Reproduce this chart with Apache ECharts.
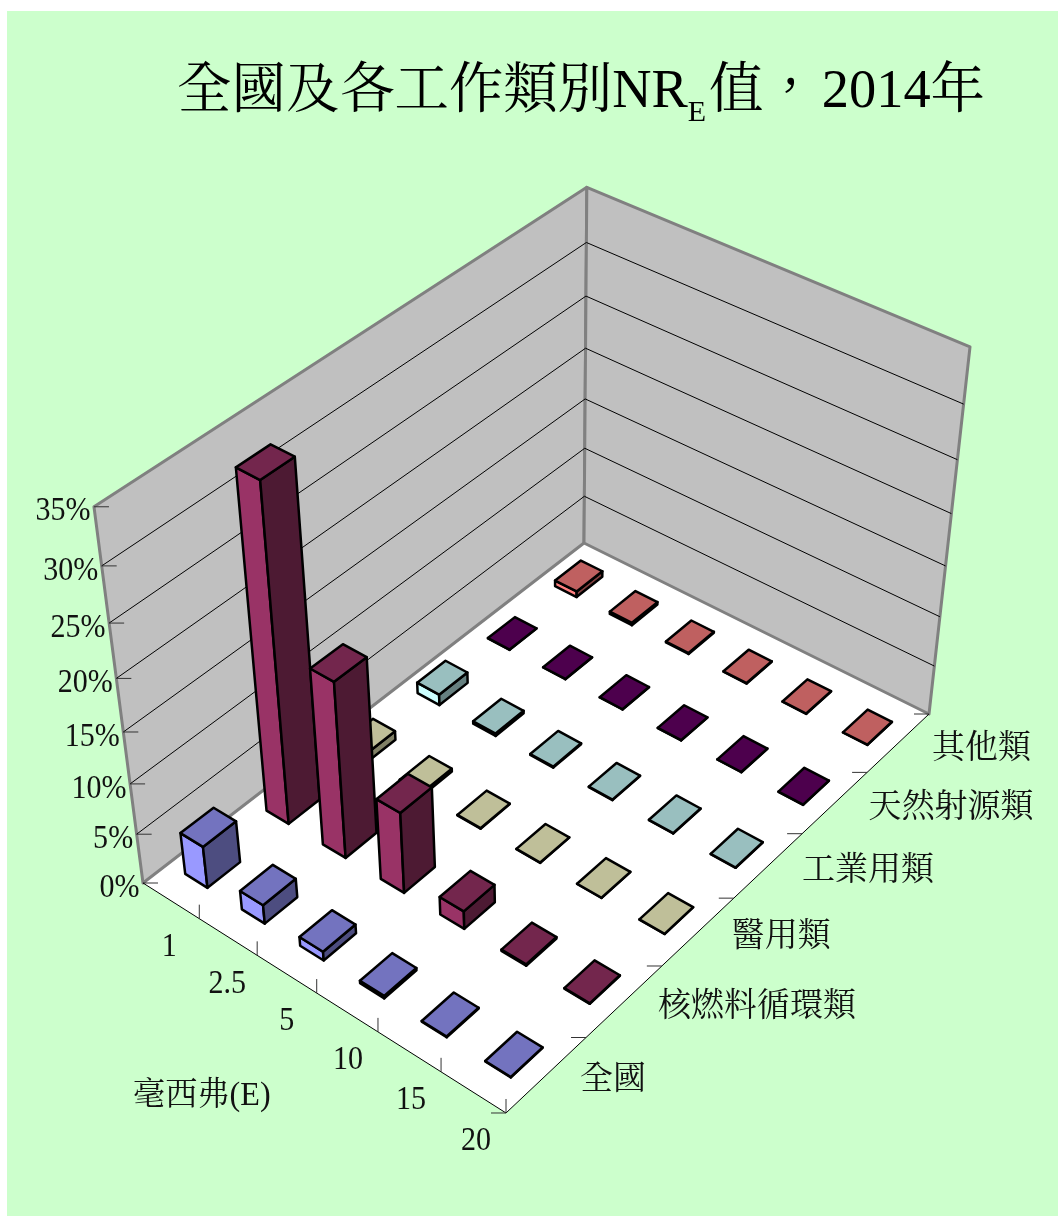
<!DOCTYPE html>
<html><head><meta charset="utf-8">
<style>html,body{margin:0;padding:0;background:#fff}#c{width:1058px;height:1216px}</style>
<script src="https://cdn.jsdelivr.net/npm/echarts@6/dist/echarts.min.js"></script>
</head><body><div id="c"></div>
<script>
const doses = ['1','2.5','5','10','15','20'];
const pctTicks = [0,5,10,15,20,25,30,35];
const groups = ['全國','核燃料循環類','醫用類','工業用類','天然射源類','其他類'];
const vAll      = [4.2,1.9,0.9,0.25,0.08,0.04];
const vFuel     = [32.5,17.4,8.1,1.8,0.15,0.05];
const vMedical  = [0.9,0.3,0.05,0.03,0.02,0.02];
const vIndustry = [1.1,0.25,0.1,0.05,0.04,0.03];
const vNatural  = [0.03,0.03,0.02,0.02,0.02,0.02];
const vOther    = [0.6,0.25,0.1,0.05,0.03,0.02];
const groupValues = [vAll,vFuel,vMedical,vIndustry,vNatural,vOther];
const faceColors = [
  ['#9999FF','#7373BF','#4D4D80'],
  ['#993366','#73264D','#4D1A33'],
  ['#FFFFCC','#BFBF99','#808066'],
  ['#CCFFFF','#99BFBF','#668080'],
  ['#660066','#4D004D','#330033'],
  ['#FF8080','#BF6060','#804040']
];
const FONT = '"Liberation Serif","Noto Serif CJK TC","Noto Sans CJK TC",serif';
const PLANE_W = 600, PLANE_H = 350;
const BAR_HALF = 0.033;

// perspective camera: (u along doses, v along groups, h along percent), each 0..1
function proj(u,v,h){
  const d = 1 - 0.08228*u + 0.15305*v - 0.1061*h;
  return [(321.37*u + 530.38*v - 59*h + 143)/d,
          (138.42*u - 256.89*v - 430*h + 883)/d];
}
function poly(pts,fill,stroke,lw){
  return {type:'polygon',shape:{points:pts},style:{fill:fill,stroke:stroke,lineWidth:lw,lineJoin:'round'}};
}
function seg(a,b,stroke,lw){
  return {type:'line',shape:{x1:a[0],y1:a[1],x2:b[0],y2:b[1]},style:{stroke:stroke,lineWidth:lw}};
}
function label(txt,x,y,align,sx){
  return {type:'text',x:x,y:y,scaleX:sx||1,style:{text:txt,align:align,verticalAlign:'middle',fontSize:33,fontFamily:FONT,fill:'#111'}};
}
function hOf(api,val){ return (PLANE_H - api.coord([0,val])[1]) / PLANE_H; }

function renderFrame(params,api){
  const ch = [];
  const F = proj;
  ch.push(poly([F(0,0,0),F(1,0,0),F(1,1,0),F(0,1,0)],'#fff','none',0));
  ch.push(poly([F(0,0,0),F(0,1,0),F(0,1,1),F(0,0,1)],'#C0C0C0','#808080',3));
  ch.push(poly([F(0,1,0),F(1,1,0),F(1,1,1),F(0,1,1)],'#C0C0C0','#808080',3));
  pctTicks.forEach(t=>{
    const h = hOf(api,t);
    if(t>0 && t<35){
      ch.push(seg(F(0,0,h),F(0,1,h),'#000',1));
      ch.push(seg(F(0,1,h),F(1,1,h),'#000',1));
    }
    const p = F(0,0,h);
    ch.push(seg(p,[p[0]+15,p[1]],'#333',1));
    ch.push(label(t+'%',p[0]-3.5,p[1]+5,'right',0.91));
  });
  ch.push(seg(F(0,0,0),F(1,0,0),'#000',1));
  ch.push(seg(F(1,0,0),F(1,1,0),'#000',1));
  doses.forEach((d,i)=>{
    const u = (api.coord([i,0])[0] + PLANE_W/12)/PLANE_W;
    const p = F(u,0,0);
    ch.push(seg(p,[p[0],p[1]-14],'#333',1));
    ch.push(label(d,p[0]-30,p[1]+28.5,'center',0.91));
  });
  ch.push(seg(F(1,0,0),[F(1,0,0)[0]-15,F(1,0,0)[1]],'#333',1));
  groups.forEach((g,j)=>{
    const vt = (j+1)/groups.length;
    const p = F(1,vt,0);
    ch.push(seg(p,[p[0]-15,p[1]],'#333',1));
    const m = F(1,(j+0.5)/groups.length,0);
    ch.push(label(g,m[0]+33.5,m[1]+6,'left'));
  });
  ch.push(label('毫西弗(E)',133,1096,'left',0.975));
  return {type:'group',children:ch};
}
function barRenderer(rowIndex){
  const cols = faceColors[rowIndex];
  return function(params,api){
    const u = api.coord([api.value(0),0])[0]/PLANE_W;
    const v = (rowIndex+0.5)/groups.length;
    const h = hOf(api,api.value(1));
    const u0=u-BAR_HALF,u1=u+BAR_HALF,v0=v-BAR_HALF,v1=v+BAR_HALF;
    const a=proj(u0,v0,0),b=proj(u1,v0,0),c=proj(u1,v1,0);
    const a2=proj(u0,v0,h),b2=proj(u1,v0,h),c2=proj(u1,v1,h),d2=proj(u0,v1,h);
    return {type:'group',children:[
      poly([a,b,b2,a2],cols[0],'#000',2.5),
      poly([b,c,c2,b2],cols[2],'#000',2.5),
      poly([a2,b2,c2,d2],cols[1],'#000',2.5)
    ]};
  };
}
const series = [{
  type:'custom',name:'frame',coordinateSystem:'cartesian2d',z:1,silent:true,clip:false,
  data:[[0,0]],encode:{x:0,y:1},renderItem:renderFrame
}];
groups.forEach((g,j)=>{
  series.push({
    type:'custom',name:g,coordinateSystem:'cartesian2d',z:10-j,silent:true,clip:false,
    data:groupValues[j].map((val,i)=>[i,val]),encode:{x:0,y:1},renderItem:barRenderer(j)
  });
});
const chart = echarts.init(document.getElementById('c'),null,{renderer:'canvas'});
const titleMain = {fontSize:54.4,fontFamily:FONT,fontWeight:'normal',color:'#000',lineHeight:70};
chart.setOption({
  animation:false,
  backgroundColor:'#fff',
  graphic:[{type:'rect',z:-10,shape:{x:7,y:11,width:1051,height:1205},style:{fill:'#CCFFCC'}}],
  title:{
    left:177,top:58,padding:0,
    text:'{m|全國及各工作類別NR}{s|E}{m|值\uFF0C}{n|2014年}',
    textStyle:{fontWeight:'normal',rich:{
      m:titleMain,
      n:Object.assign({},titleMain,{padding:[0,0,0,4]}),
      s:{fontSize:30,fontFamily:FONT,fontWeight:'normal',color:'#000',lineHeight:70,verticalAlign:'bottom',padding:[0,3,0,0]}
    }}
  },
  grid:{left:0,top:0,width:PLANE_W,height:PLANE_H,show:false},
  xAxis:{type:'category',data:doses,show:false},
  yAxis:{type:'value',min:0,max:35,interval:5,show:false},
  series:series
});
</script></body></html>
